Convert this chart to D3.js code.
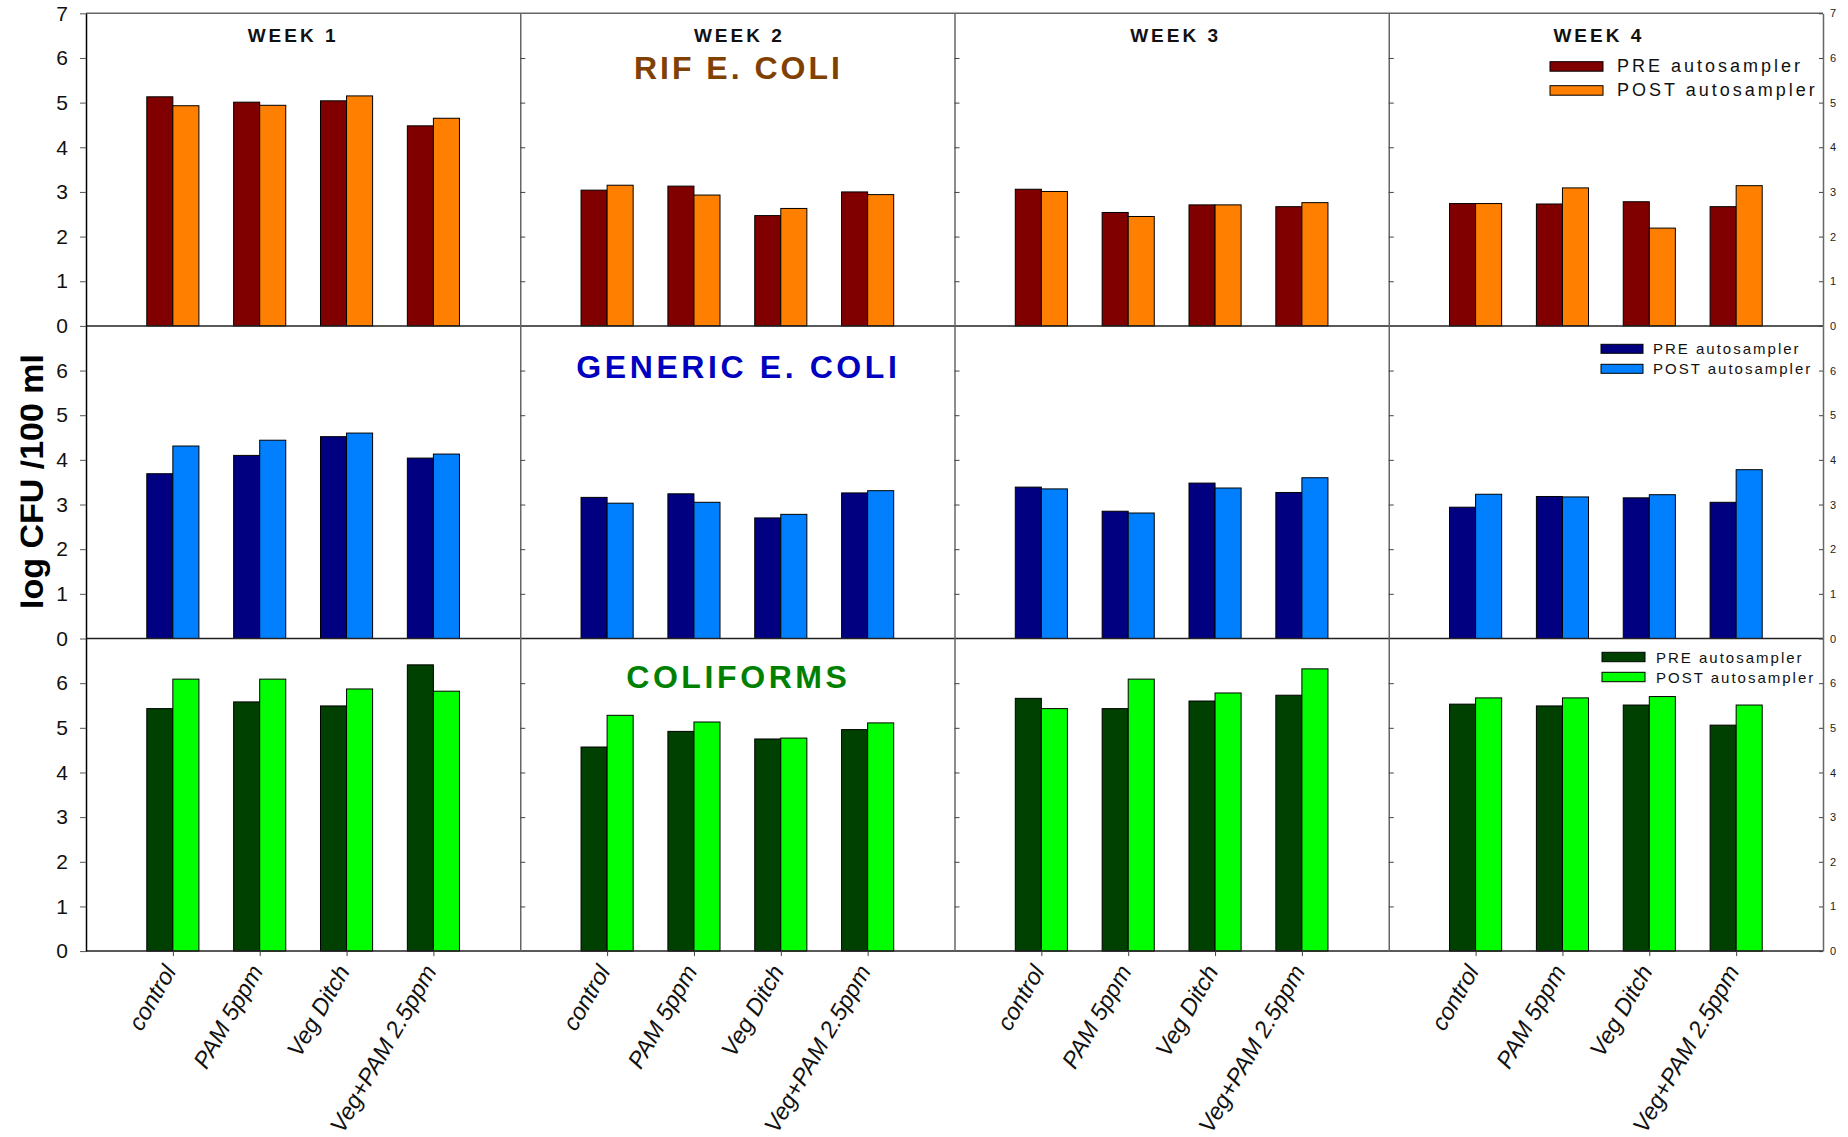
<!DOCTYPE html>
<html>
<head>
<meta charset="utf-8">
<title>log CFU /100 ml - PRE vs POST autosampler</title>
<script src="https://d3js.org/d3.v7.min.js"></script>
<style>
  body { margin:0; background:#fff; }
  svg { display:block; font-family:"Liberation Sans", Arial, sans-serif; }
  .domain { stroke-width:1.5px; }
</style>
</head>
<body>
<script>
// ---- data ----
const weeks = ["WEEK 1", "WEEK 2", "WEEK 3", "WEEK 4"];
const treatments = ["control", "PAM 5ppm", "Veg Ditch", "Veg+PAM 2.5ppm"];
const organisms = ["RIF E. COLI", "GENERIC E. COLI", "COLIFORMS"];
const seriesNames = ["PRE autosampler", "POST autosampler"];
const yTicksTop = [0, 1, 2, 3, 4, 5, 6, 7];
const yTicksLower = [0, 1, 2, 3, 4, 5, 6];

// one inner array per week, values in treatment order
const rifPre      = [[5.13, 5.01, 5.04, 4.48], [3.04, 3.13, 2.47, 3.00], [3.06, 2.54, 2.71, 2.67], [2.74, 2.73, 2.78, 2.67]];
const rifPost     = [[4.93, 4.94, 5.15, 4.65], [3.15, 2.93, 2.63, 2.94], [3.01, 2.45, 2.71, 2.76], [2.74, 3.09, 2.19, 3.14]];
const genericPre  = [[3.69, 4.10, 4.52, 4.04], [3.16, 3.24, 2.70, 3.26], [3.39, 2.85, 3.48, 3.27], [2.94, 3.18, 3.15, 3.05]];
const genericPost = [[4.31, 4.44, 4.60, 4.13], [3.03, 3.05, 2.78, 3.31], [3.35, 2.81, 3.37, 3.60], [3.23, 3.17, 3.22, 3.78]];
const coliPre     = [[5.43, 5.58, 5.49, 6.41], [4.57, 4.92, 4.75, 4.96], [5.66, 5.43, 5.60, 5.73], [5.53, 5.49, 5.51, 5.06]];
const coliPost    = [[6.09, 6.09, 5.87, 5.82], [5.28, 5.13, 4.77, 5.11], [5.43, 6.09, 5.78, 6.32], [5.67, 5.67, 5.70, 5.51]];

const rowData = [[rifPre, rifPost], [genericPre, genericPost], [coliPre, coliPost]];

// ---- styling ----
const barColors = [["#800000", "#ff8000"], ["#000080", "#0080ff"], ["#004000", "#00ff00"]];
const titleColors = ["#804000", "#0000c0", "#008000"];

const W = 1848, H = 1137;
const plotL = 86, plotR = 1823, plotT = 13.3, rowH = 312.6;
const panelW = (plotR - plotL) / 4;
const fmt = d3.format("d");

const svg = d3.select("body").append("svg")
  .attr("width", W)
  .attr("height", H);

// x scale per week panel: categories at 1..4 on a 0..5 domain
const xScales = weeks.map((w, i) => d3.scaleLinear()
  .domain([0, 5])
  .range([plotL + i * panelW, plotL + (i + 1) * panelW]));

const yScales = organisms.map((o, r) => d3.scaleLinear()
  .domain([0, 7])
  .range([plotT + (r + 1) * rowH, plotT + r * rowH]));

const barW = 0.3;

// bars
rowData.forEach((pair, r) => {
  const y = yScales[r];
  weeks.forEach((wk, w) => {
    const x = xScales[w];
    pair.forEach((series, s) => {
      svg.append("g").selectAll("rect")
        .data(series[w])
        .enter()
        .append("rect")
        .attr("x", (d, i) => x(i + 1 - barW + s * barW))
        .attr("width", x(barW) - x(0))
        .attr("y", d => y(d))
        .attr("height", d => y(0) - y(d))
        .attr("fill", barColors[r][s])
        .attr("stroke", "#000")
        .attr("stroke-width", 1);
    });
  });
});

// frame: top border
svg.append("line")
  .attr("x1", plotL).attr("x2", plotR)
  .attr("y1", plotT).attr("y2", plotT)
  .attr("stroke", "#666").attr("stroke-width", 1.5);

// row zero lines
yScales.forEach(y => {
  svg.append("line")
    .attr("x1", plotL).attr("x2", plotR)
    .attr("y1", y(0)).attr("y2", y(0))
    .attr("stroke", "#222").attr("stroke-width", 1.5);
});

// left axes
yScales.forEach((y, r) => {
  const g = svg.append("g")
    .attr("transform", "translate(" + plotL + ",0)")
    .call(d3.axisLeft(y)
      .tickValues(r === 0 ? yTicksTop : yTicksLower)
      .tickFormat(fmt)
      .tickSize(6).tickSizeOuter(0).tickPadding(12));
  g.select(".domain").attr("stroke", "#000");
  g.selectAll(".tick line").attr("stroke", "#555");
  g.selectAll("text")
    .style("font-size", "21px")
    .attr("fill", "#111");
});

// week dividers with inward ticks
[1, 2, 3].forEach(w => {
  yScales.forEach(y => {
    const g = svg.append("g")
      .attr("transform", "translate(" + xScales[w](0) + ",0)")
      .call(d3.axisRight(y)
        .tickValues(yTicksTop.slice(1, 7))
        .tickSize(5).tickSizeOuter(0).tickFormat(""));
    g.select(".domain").attr("stroke", "#666");
    g.selectAll(".tick line").attr("stroke", "#444");
  });
});

// right axes
yScales.forEach((y, r) => {
  const g = svg.append("g")
    .attr("transform", "translate(" + plotR + ",0)")
    .call(d3.axisRight(y)
      .tickValues(r === 0 ? yTicksTop : yTicksLower)
      .tickFormat(fmt)
      .tickSize(-4).tickSizeOuter(0).tickPadding(7));
  g.select(".domain").attr("stroke", "#666");
  g.selectAll(".tick line").attr("stroke", "#444");
  g.selectAll("text")
    .style("font-size", "11px")
    .attr("fill", "#222");
});

// bottom ticks + rotated treatment labels
const yBottom = yScales[2](0);
xScales.forEach(x => {
  svg.append("g")
    .attr("transform", "translate(0," + yBottom + ")")
    .call(d3.axisBottom(x).tickValues([1, 2, 3, 4]).tickSize(5).tickSizeOuter(0).tickFormat(""))
    .call(g => g.select(".domain").remove())
    .selectAll(".tick line").attr("stroke", "#444");

  svg.append("g").selectAll("text")
    .data(treatments)
    .enter()
    .append("text")
    .attr("transform", (d, i) => "translate(" + (x(i + 1) + 4) + "," + (yBottom + 20) + ") rotate(-60)")
    .attr("text-anchor", "end")
    .style("font-size", "23.5px")
    .style("font-style", "italic")
    .attr("fill", "#111")
    .text(d => d);
});

// week titles
const weekShift = [-10, 2, 4, -7];
weeks.forEach((wk, w) => {
  svg.append("text")
    .attr("x", xScales[w](2.5) + weekShift[w])
    .attr("y", 42)
    .attr("text-anchor", "middle")
    .style("font-size", "19px")
    .style("font-weight", "bold")
    .style("letter-spacing", "3px")
    .attr("fill", "#111")
    .text(wk);
});

// organism titles in week 2 panel
const titleY = [79, 378, 688];
organisms.forEach((o, r) => {
  svg.append("text")
    .attr("x", xScales[1](2.5) + 1)
    .attr("y", titleY[r])
    .attr("text-anchor", "middle")
    .style("font-size", "32px")
    .style("font-weight", "bold")
    .style("letter-spacing", r === 0 ? "3px" : "3.6px")
    .attr("fill", titleColors[r])
    .text(o);
});

// legends
const legends = [
  { x: 1550, y: 61.7, sw: 53, sh: 9.5, gap: 24, tx: 1617, fs: 18, ls: 3 },
  { x: 1601, y: 344.3, sw: 42, sh: 9, gap: 20, tx: 1653, fs: 15, ls: 2 },
  { x: 1602, y: 652.3, sw: 43, sh: 9.4, gap: 20, tx: 1656, fs: 15, ls: 2 }
];
legends.forEach((lg, r) => {
  const g = svg.append("g");
  seriesNames.forEach((name, s) => {
    g.append("rect")
      .attr("x", lg.x)
      .attr("y", lg.y + s * lg.gap)
      .attr("width", lg.sw)
      .attr("height", lg.sh)
      .attr("fill", barColors[r][s])
      .attr("stroke", "#000");
    g.append("text")
      .attr("x", lg.tx)
      .attr("y", lg.y + s * lg.gap + lg.sh + 1)
      .style("font-size", lg.fs + "px")
      .style("letter-spacing", lg.ls + "px")
      .attr("fill", "#111")
      .text(name);
  });
});

// y axis title (clipped on the left edge like the original)
svg.append("clipPath").attr("id", "yclip")
  .append("rect").attr("x", 20.5).attr("y", 0).attr("width", 60).attr("height", H);
svg.append("g")
  .attr("clip-path", "url(#yclip)")
  .append("text")
  .attr("transform", "translate(43,481.5) rotate(-90)")
  .attr("text-anchor", "middle")
  .style("font-size", "34px")
  .style("font-weight", "bold")
  .attr("fill", "#000")
  .text("log CFU /100 ml");
</script>
</body>
</html>
